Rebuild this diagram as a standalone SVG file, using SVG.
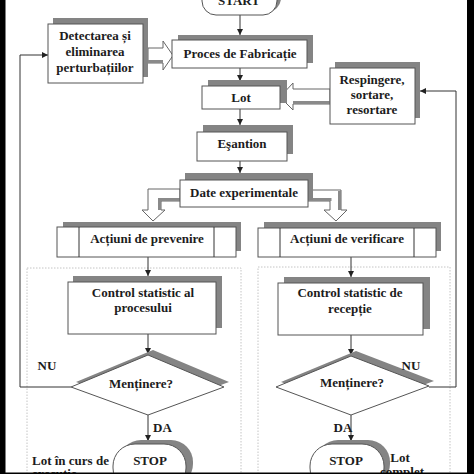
<svg xmlns="http://www.w3.org/2000/svg" width="474" height="474" viewBox="0 0 474 474">
<style>
.box{fill:#fff;stroke:#555;stroke-width:1}
.sh{fill:#848484}
.t{font-family:"Liberation Serif","Times New Roman",serif;font-weight:bold;font-size:13px;fill:#1c1c1c;text-anchor:middle}
.tl{font-family:"Liberation Serif","Times New Roman",serif;font-weight:bold;font-size:13px;fill:#1c1c1c}
.ln{stroke:#333;stroke-width:1;fill:none}
.blk{fill:#fff;stroke:#666;stroke-width:1}
.bsh{fill:none;stroke:#8a8a8a;stroke-width:3}
.frame{fill:none;stroke:#c4c4c4;stroke-width:1;stroke-dasharray:1.5 1.5}
</style>
<defs>
<marker id="ah" viewBox="0 0 6 6" refX="6" refY="3" markerWidth="6" markerHeight="6" markerUnits="userSpaceOnUse" orient="auto">
<path d="M0,0 L6,3 L0,6 z" fill="#222"/>
</marker>
</defs>
<rect x="0" y="0" width="474" height="474" fill="#fff"/>
<g id="frames">
<rect class="frame" x="27" y="268" width="214" height="222"/>
<rect class="frame" x="258" y="267" width="192" height="222"/>
</g>
<g id="connectors">
<line class="ln" x1="240" y1="15" x2="240" y2="35" marker-end="url(#ah)"/>
<line class="ln" x1="240" y1="68" x2="240" y2="81" marker-end="url(#ah)"/>
<line class="ln" x1="240" y1="109" x2="240" y2="125" marker-end="url(#ah)"/>
<line class="ln" x1="240" y1="161" x2="240" y2="173" marker-end="url(#ah)"/>
<line class="ln" x1="148" y1="257" x2="148" y2="276" marker-end="url(#ah)"/>
<line class="ln" x1="351" y1="257" x2="351" y2="277" marker-end="url(#ah)"/>
<line class="ln" x1="148" y1="334" x2="148" y2="354" marker-end="url(#ah)"/>
<line class="ln" x1="351" y1="335" x2="351" y2="355" marker-end="url(#ah)"/>
<line class="ln" x1="148" y1="415" x2="148" y2="441" marker-end="url(#ah)"/>
<line class="ln" x1="351" y1="415" x2="351" y2="441" marker-end="url(#ah)"/>
<polyline class="ln" points="71,387 20,387 20,55 48,55" marker-end="url(#ah)"/>
<polyline class="ln" points="429,387 456,387 456,91 420,91" marker-end="url(#ah)"/>
<polygon class="blk" points="148,48 163,48 163,41 173,55.5 163,70 163,63 148,63"/>
<line class="bsh" x1="148" y1="61.5" x2="163" y2="61.5"/>
<polygon class="blk" points="330,89 293,89 293,83 280,97 293,110 293,104 330,104"/>
<line class="bsh" x1="293" y1="102.5" x2="330" y2="102.5"/>
<polygon class="blk" points="180,189 148,189 148,210 142,210 153,221 165,210 161,210 161,201 180,201"/>
<polyline class="bsh" points="180,199.5 159.5,199.5 159.5,210"/>
<polygon class="blk" points="308,190 341,190 341,210 347,210 336,221 324,210 330,210 330,201 308,201"/>
<polyline class="bsh" points="308,199.5 331.5,199.5"/>
<line class="bsh" x1="339.5" y1="191" x2="339.5" y2="210"/>
</g>
<g id="start">
<rect class="sh" x="206" y="-18" width="75" height="30" rx="14"/>
<rect class="box" x="202" y="-15" width="75" height="30" rx="14"/>
<text class="t" x="239" y="5">START</text>
</g>
<g id="proces">
<rect class="sh" x="178" y="35" width="135" height="28"/>
<rect class="box" x="172" y="40" width="135" height="28"/>
<text class="t" x="240" y="58">Proces de Fabricație</text>
</g>
<g id="detectarea">
<rect class="sh" x="53" y="18" width="95" height="59"/>
<rect class="box" x="48" y="24" width="95" height="59"/>
<text class="t" x="95" y="40">Detectarea și</text>
<text class="t" x="95" y="56">eliminarea</text>
<text class="t" x="95" y="72">perturbațiilor</text>
</g>
<g id="lot">
<rect class="sh" x="208" y="80" width="79" height="23"/>
<rect class="box" x="202" y="86" width="78" height="23"/>
<text class="t" x="241" y="102">Lot</text>
</g>
<g id="respingere">
<rect class="sh" x="335" y="62" width="85" height="56"/>
<rect class="box" x="330" y="68" width="85" height="56"/>
<text class="t" x="372" y="84">Respingere,</text>
<text class="t" x="372" y="99">sortare,</text>
<text class="t" x="372" y="114">resortare</text>
</g>
<g id="esantion">
<rect class="sh" x="203" y="125" width="90" height="29"/>
<rect class="box" x="197" y="132" width="90" height="29"/>
<text class="t" x="242" y="148">Eşantion</text>
</g>
<g id="date">
<rect class="sh" x="185" y="173" width="128" height="27"/>
<rect class="box" x="180" y="180" width="128" height="27"/>
<text class="t" x="244" y="197">Date experimentale</text>
</g>
<g id="prevenire">
<rect class="sh" x="63" y="222" width="178" height="29"/>
<rect class="box" x="57" y="227" width="179" height="30"/>
<line class="ln" x1="79" y1="227" x2="79" y2="257" stroke="#555"/>
<line class="ln" x1="214" y1="227" x2="214" y2="257" stroke="#555"/>
<text class="t" x="147" y="243">Acțiuni de prevenire</text>
</g>
<g id="verificare">
<rect class="sh" x="264" y="222" width="177" height="29"/>
<rect class="box" x="258" y="228" width="178" height="29"/>
<line class="ln" x1="280" y1="228" x2="280" y2="257" stroke="#555"/>
<line class="ln" x1="414" y1="228" x2="414" y2="257" stroke="#555"/>
<text class="t" x="347" y="243">Acțiuni de verificare</text>
</g>
<g id="control-proces">
<rect class="sh" x="73" y="276" width="149" height="52"/>
<rect class="box" x="68" y="282" width="148" height="52"/>
<text class="t" x="143" y="297">Control statistic al</text>
<text class="t" x="143" y="312">procesului</text>
</g>
<g id="control-receptie">
<rect class="sh" x="284" y="277" width="146" height="52"/>
<rect class="box" x="278" y="283" width="145" height="52"/>
<text class="t" x="350" y="297">Control statistic de</text>
<text class="t" x="350" y="313">recepție</text>
</g>
<g id="decizie-stanga">
<polygon class="sh" points="76,382 153,350 229,382 153,410"/>
<polygon class="box" points="71,387 148,355 224,387 148,415"/>
<text class="t" x="141" y="388">Menținere?</text>
</g>
<g id="decizie-dreapta">
<polygon class="sh" points="281,382 356,351 434,381 356,410"/>
<polygon class="box" points="276,387 351,356 429,386 351,415"/>
<text class="t" x="352" y="387">Menținere?</text>
</g>
<g id="etichete">
<text class="t" x="47" y="370">NU</text>
<text class="t" x="411" y="370">NU</text>
<text class="tl" x="153" y="432">DA</text>
<text class="t" x="343" y="432">DA</text>
</g>
<g id="stop-stanga">
<rect class="sh" x="119" y="440" width="74" height="46" rx="22"/>
<rect class="box" x="113" y="444" width="73" height="46" rx="22"/>
<text class="t" x="150" y="465">STOP</text>
<text class="tl" x="32" y="465">Lot în curs de</text>
<text class="tl" x="32" y="478">execuție</text>
</g>
<g id="stop-dreapta">
<rect class="sh" x="316" y="440" width="74" height="46" rx="22"/>
<rect class="box" x="310" y="444" width="74" height="46" rx="22"/>
<text class="t" x="346" y="465">STOP</text>
<text class="t" x="400" y="462">Lot</text>
<text class="t" x="402" y="476">complet</text>
</g>
<g id="margini">
<rect x="0" y="0" width="5.5" height="474" fill="#000"/>
<rect x="467" y="0" width="7" height="474" fill="#000"/>
<rect x="0" y="472.5" width="474" height="1.5" fill="#000"/>
</g>
</svg>
